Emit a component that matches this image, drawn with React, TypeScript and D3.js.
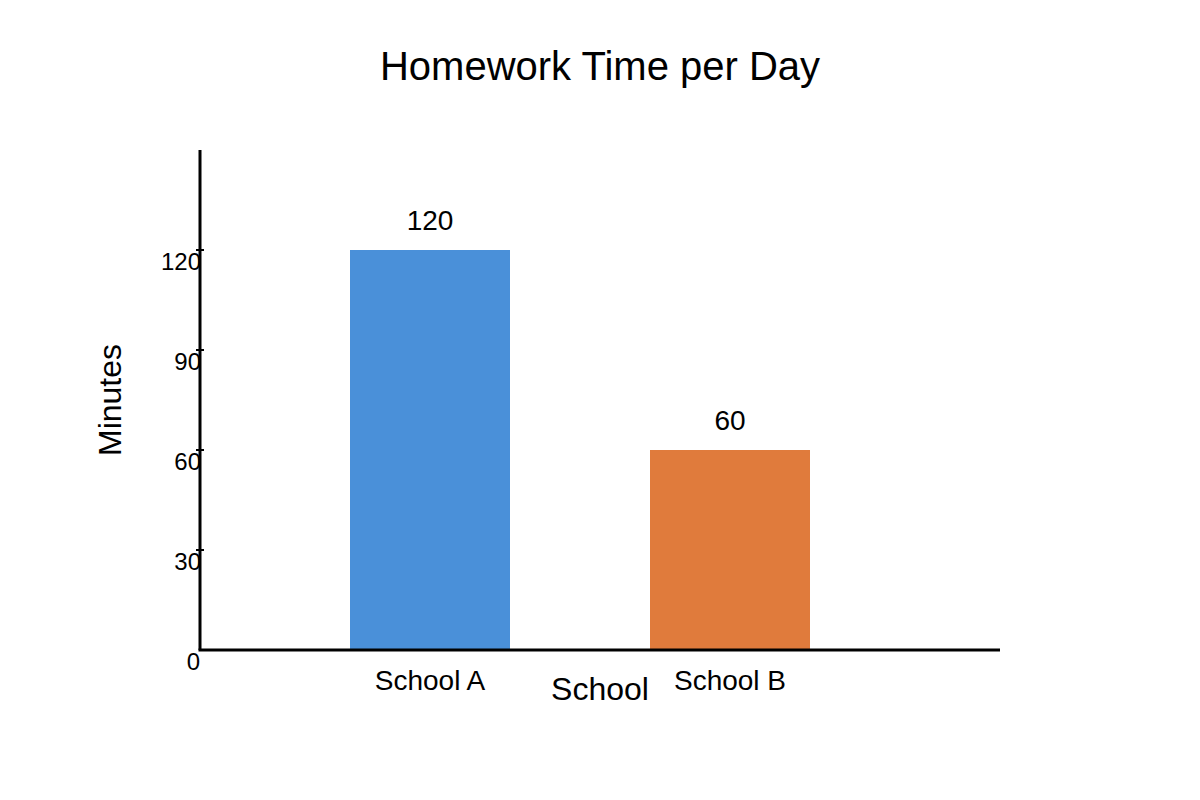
import React, { useEffect } from "react";
import * as d3 from "d3";

const schools = ["School A", "School B"];
const minutes = [120, 60];
const barColors = ["#4a90d9", "#e07b3c"];
const yTicks = [0, 30, 60, 90, 120];

const W = 1200;
const H = 800;
const FONT = "'Liberation Sans', Arial, sans-serif";

const App = () => {
  useEffect(() => {
    document.body.style.margin = "0";
  }, []);

  const y = d3.scaleLinear().domain([0, 150]).range([650, 150]);
  // bar centres sit 300px apart, starting 230px right of the axis
  const x = d3.scalePoint<string>().domain(schools).range([430, 730]);
  const barW = 160;

  return (
    <svg width={W} height={H} style={{ display: "block", background: "#fff" }} fontFamily={FONT}>
      <text x={600} y={80} textAnchor="middle" fontSize={40} fill="#000">
        Homework Time per Day
      </text>

      {/* bars */}
      {schools.map((s, i) => (
        <g key={s}>
          <rect
            x={x(s)! - barW / 2}
            y={y(minutes[i])}
            width={barW}
            height={y(0) - y(minutes[i])}
            fill={barColors[i]}
          />
          <text x={x(s)} y={y(minutes[i]) - 20} textAnchor="middle" fontSize={28} fill="#000">
            {minutes[i]}
          </text>
          <text x={x(s)} y={690} textAnchor="middle" fontSize={28} fill="#000">
            {s}
          </text>
        </g>
      ))}

      {/* y axis */}
      <line x1={200} x2={200} y1={y(150)} y2={y(0)} stroke="#000" strokeWidth={3} />
      {yTicks.map((t) => (
        <g key={t}>
          {t > 0 && <line x1={196} x2={204} y1={y(t)} y2={y(t)} stroke="#000" strokeWidth={2} />}
          <text x={t === 0 ? 200 : 201} y={y(t) + 20} textAnchor="end" fontSize={24} fill="#000">
            {t}
          </text>
        </g>
      ))}

      {/* x axis */}
      <line x1={198.5} x2={1000} y1={y(0)} y2={y(0)} stroke="#000" strokeWidth={3} />

      <text x={600} y={700} textAnchor="middle" fontSize={32} fill="#000">
        School
      </text>
      <text
        transform={`translate(121,400) rotate(-90)`}
        textAnchor="middle"
        fontSize={32}
        fill="#000"
      >
        Minutes
      </text>
    </svg>
  );
};

export default App;
